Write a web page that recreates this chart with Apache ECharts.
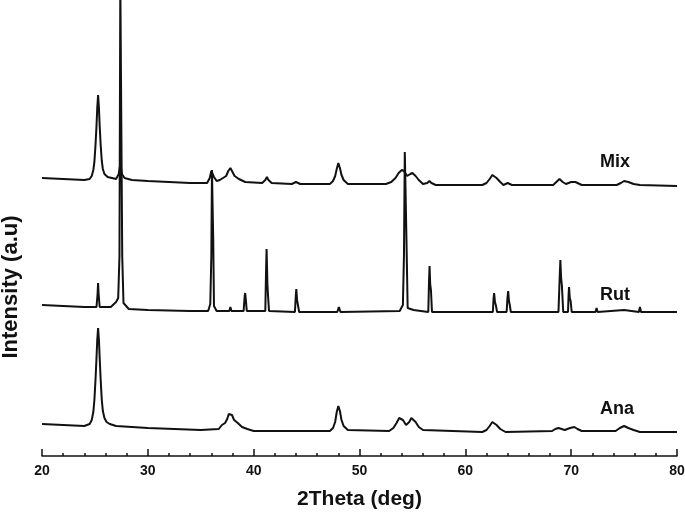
<!DOCTYPE html>
<html>
<head>
<meta charset="utf-8">
<script src="https://cdn.jsdelivr.net/npm/echarts@6/dist/echarts.min.js"></script>
<style>
html,body{margin:0;padding:0;background:#fff;}
#chart{width:685px;height:516px;}
</style>
</head>
<body>
<div id="chart"></div>
<script>
// 2Theta (deg) / intensity (a.u., patterns stacked with vertical offsets)
var mixData = [
[20,278],[22,277],[24,276],[24.5,277],[24.7,280],[24.85,286],[24.95,294],[25.05,310],[25.15,330],[25.22,348],[25.3,361],
[25.38,348],[25.45,330],[25.55,310],[25.65,295],[25.75,287],[25.9,282],[26.2,279],[27.0,277],[27.25,282],[27.4,292],
[27.55,282],[27.8,278],[28.5,276],[30,275],[34,273],[35.6,273],[35.85,278],[36.0,285],[36.1,286],[36.25,279],[36.5,275],
[36.8,276],[37.1,278],[37.4,280],[37.6,285],[37.8,288],[38.0,284],[38.2,280],[38.6,277],[39.2,274],[40.8,273],
[41.1,276],[41.25,279],[41.4,276],[41.7,273],[43.6,272],[44.0,274],[44.4,272],[47.2,272],[47.5,275],[47.7,280],
[47.85,287],[48.0,293],[48.15,288],[48.3,281],[48.5,276],[48.9,272],[52.5,272],[53.0,274],[53.4,278],[53.7,283],
[54.0,286],[54.2,285],[54.5,280],[54.8,282],[55.0,283],[55.3,280],[55.6,276],[56.0,272],[56.4,273],[56.6,275],
[56.8,273],[57.2,271],[61.6,271],[62.0,273],[62.3,277],[62.55,281],[62.7,281],[62.95,278],[63.3,274],[63.6,271],
[64.0,273],[64.4,271],[68.3,271],[68.6,274],[68.9,277],[69.2,274],[69.5,272],[70.0,274],[70.4,274],[71.0,271],
[74.3,271],[74.7,273],[75.0,275],[75.4,274],[75.9,272],[76.5,271],[80,270]
];
var rutData = [
[20,151],[22,150],[24,149],[25.15,149],[25.25,162],[25.3,173],[25.35,162],[25.45,149],[26.5,149],[27.0,154],
[27.2,158],[27.32,200],[27.4,476],[27.5,476],[27.58,200],[27.7,153],[28.2,147],[30,146],[34,145],[35.7,145],
[35.9,152],[36.0,200],[36.06,286],[36.12,250],[36.18,216],[36.25,150],[36.5,145],[37.7,145],[37.8,149],[37.9,145],
[39.05,145],[39.15,160],[39.2,163],[39.27,155],[39.35,145],[41.1,145],[41.17,185],[41.22,207],[41.3,172],[41.36,160],
[41.45,145],[43.9,144],[43.98,160],[44.03,167],[44.1,156],[44.15,153],[44.3,144],[47.9,144],[48.05,149],[48.2,144],
[53.8,145],[54.1,151],[54.2,200],[54.28,304],[54.36,260],[54.42,226],[54.55,148],[55.1,146],[56.5,144],[56.57,175],
[56.62,190],[56.68,172],[56.75,166],[56.85,144],[62.6,144],[62.67,158],[62.72,163],[62.8,154],[62.88,151],[63.0,144],
[63.9,144],[63.98,158],[64.05,165],[64.12,155],[64.2,151],[64.3,144],[68.8,144],[68.92,180],[68.98,196],[69.05,178],
[69.12,171],[69.25,144],[69.7,144],[69.76,162],[69.8,169],[69.87,158],[69.95,155],[70.05,144],[72.3,144],[72.4,148],
[72.5,144],[75.0,146],[76.4,144],[76.5,149],[76.6,144],[80,144]
];
var anaData = [
[20,32],[22,31],[24,30],[24.5,32],[24.7,36],[24.85,44],[24.95,56],[25.05,75],[25.15,98],[25.22,116],[25.3,128],
[25.38,116],[25.45,98],[25.55,75],[25.65,56],[25.75,45],[25.9,38],[26.1,34],[26.4,32],[27,30],[30,28],[35,26],
[36.7,27],[37.0,31],[37.3,33],[37.5,37],[37.65,42],[37.8,44],[37.95,41],[38.15,36],[38.5,33],[38.9,29],[39.4,27],
[40,25],[47.2,25],[47.5,28],[47.7,34],[47.85,44],[48.0,50],[48.15,45],[48.3,36],[48.5,30],[48.9,26],[52.8,25],
[53.2,28],[53.5,33],[53.75,38],[53.9,39],[54.1,36],[54.4,31],[54.7,34],[54.9,38],[55.05,38],[55.3,34],[55.6,29],
[56.0,26],[61.6,24],[62.0,26],[62.3,30],[62.55,34],[62.7,34],[62.95,31],[63.3,27],[63.8,24],[68.2,25],[68.5,27],
[68.8,28],[69.1,27],[69.4,26],[69.9,28],[70.3,29],[70.6,27],[71.0,25],[74.2,25],[74.6,28],[75.0,30],[75.4,28],
[75.9,26],[76.5,24],[80,24]
];
var seriesNames = ['Mix','Rut','Ana'];
var xTicks = [20,30,40,50,60,70,80];
var xTitle = '2Theta (deg)';
var yTitle = 'Intensity (a.u)';

var chart = echarts.init(document.getElementById('chart'), null, {renderer:'canvas'});
var FONT = '"Liberation Sans", Arial, sans-serif';
function mkSeries(name, data){
  return {name:name, type:'line', data:data, showSymbol:false, symbol:'none', clip:true,
    lineStyle:{color:'#111', width:2}, animation:false};
}
chart.setOption({
  animation:false,
  grid:{left:42, right:8, top:0, bottom:60, containLabel:false, outerBoundsMode:'none'},
  xAxis:{type:'value', min:xTicks[0], max:xTicks[xTicks.length-1], interval:10,
    name:xTitle, nameLocation:'middle', nameGap:33,
    nameTextStyle:{fontFamily:FONT, fontWeight:'bold', fontSize:21, color:'#111'},
    axisLine:{lineStyle:{color:'#111', width:1.5}},
    axisTick:{inside:true, length:7, lineStyle:{color:'#111', width:1.5}},
    minorTick:{show:true, splitNumber:5, length:3, lineStyle:{color:'#111', width:1.5}},
    splitLine:{show:false},
    axisLabel:{fontFamily:FONT, fontWeight:'bold', fontSize:14, color:'#111', margin:8}
  },
  yAxis:{type:'value', min:0, max:456,
    axisLine:{show:false}, axisTick:{show:false}, axisLabel:{show:false}, splitLine:{show:false}
  },
  series:[mkSeries(seriesNames[0], mixData), mkSeries(seriesNames[1], rutData), mkSeries(seriesNames[2], anaData)],
  graphic:[
    {type:'text', x:11, y:287, rotation:Math.PI/2,
      style:{text:yTitle, font:'bold 22px '+FONT, fill:'#111', align:'center', verticalAlign:'middle'}},
    {type:'text', left:600, top:153, style:{text:seriesNames[0], font:'bold 18px '+FONT, fill:'#111'}},
    {type:'text', left:600, top:286, style:{text:seriesNames[1], font:'bold 18px '+FONT, fill:'#111'}},
    {type:'text', left:600, top:400, style:{text:seriesNames[2], font:'bold 18px '+FONT, fill:'#111'}}
  ]
});
</script>
</body>
</html>
